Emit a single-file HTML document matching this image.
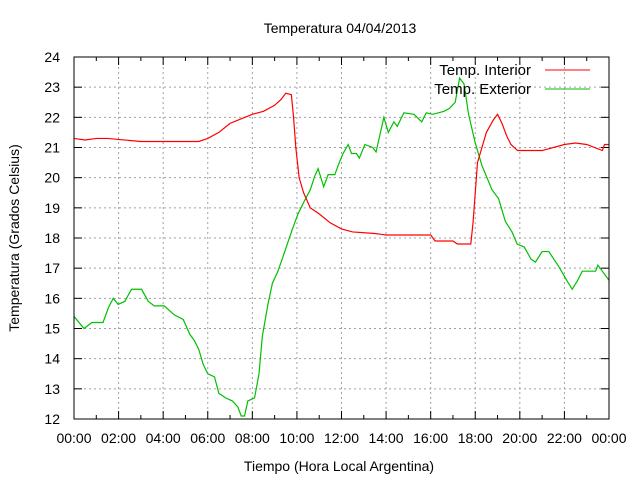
<!DOCTYPE html>
<html><head><meta charset="utf-8"><style>
body{margin:0;background:#fff}
svg{display:block;font-family:"Liberation Sans",sans-serif}
</style></head><body>
<svg id="c" width="640" height="480" viewBox="0 0 640 480"></svg>
<script>
const xTickLabels=["00:00","02:00","04:00","06:00","08:00","10:00","12:00","14:00","16:00","18:00","20:00","22:00","00:00"];
const yTicks=[12,13,14,15,16,17,18,19,20,21,22,23,24];
const interiorHours=[0,0.5,1.0,1.5,3.0,5.6,6.0,6.5,7.0,7.5,8.0,8.5,9.0,9.3,9.5,9.75,9.85,9.95,10.1,10.3,10.6,11.0,11.5,12.0,12.5,13.5,14.0,16.0,16.2,17.0,17.2,17.8,17.9,18.0,18.1,18.3,18.5,18.8,19.0,19.2,19.4,19.6,19.9,21.0,22.0,22.5,23.0,23.7,23.8,24];
const interiorTemps=[21.3,21.25,21.3,21.3,21.2,21.2,21.3,21.5,21.8,21.95,22.1,22.2,22.4,22.6,22.8,22.75,22.0,21.0,20.0,19.5,19.0,18.8,18.5,18.3,18.2,18.15,18.1,18.1,17.9,17.9,17.8,17.8,18.5,19.5,20.5,21.0,21.5,21.9,22.1,21.8,21.4,21.1,20.9,20.9,21.1,21.15,21.1,20.9,21.1,21.1];
const exteriorHours=[0,0.45,0.8,1.3,1.55,1.76,1.98,2.28,2.58,3.03,3.33,3.6,4.05,4.5,4.9,5.2,5.4,5.6,5.8,6.0,6.3,6.5,6.8,7.1,7.35,7.5,7.65,7.8,8.1,8.3,8.45,8.7,8.9,9.15,9.5,9.8,10.05,10.35,10.6,10.8,10.95,11.2,11.4,11.7,11.9,12.07,12.3,12.45,12.67,12.8,13.05,13.4,13.55,13.9,14.1,14.35,14.5,14.8,15.25,15.6,15.8,16.1,16.6,16.85,17.1,17.3,17.5,17.7,18.0,18.3,18.75,19.05,19.35,19.65,19.88,20.2,20.5,20.7,21.0,21.3,21.75,22.1,22.35,22.6,22.8,23.4,23.5,23.7,24];
const exteriorTemps=[15.4,15.0,15.2,15.2,15.7,16.0,15.8,15.9,16.3,16.3,15.9,15.75,15.75,15.45,15.3,14.8,14.6,14.3,13.8,13.5,13.4,12.85,12.7,12.6,12.4,12.1,12.1,12.6,12.7,13.5,14.75,15.8,16.5,16.9,17.65,18.3,18.8,19.25,19.6,20.05,20.3,19.7,20.1,20.1,20.5,20.8,21.1,20.8,20.8,20.65,21.1,21.0,20.85,22.0,21.5,21.85,21.7,22.15,22.1,21.85,22.15,22.1,22.2,22.3,22.5,23.3,23.1,22.1,21.15,20.4,19.6,19.3,18.55,18.2,17.8,17.7,17.3,17.2,17.55,17.55,17.05,16.6,16.3,16.6,16.9,16.9,17.1,16.9,16.6];

const L=74,R=609,T=57,B=419;
const xs=h=>L+(R-L)*h/24;
const ys=v=>B-(B-T)*(v-12)/12;
const svg=document.getElementById('c');
const NS='http://www.w3.org/2000/svg';
function mk(tag,attrs,parent){const e=document.createElementNS(NS,tag);for(const k in attrs)e.setAttribute(k,attrs[k]);(parent||svg).appendChild(e);return e;}
const grid=mk('g',{});


for(let i=1;i<12;i++){mk('line',{x1:xs(i*2),x2:xs(i*2),y1:T,y2:B,stroke:'#a0a0a0','stroke-dasharray':'2,3'},grid);}
yTicks.forEach(v=>{if(v>12&&v<24)mk('line',{x1:L,x2:R,y1:ys(v),y2:ys(v),stroke:'#a0a0a0','stroke-dasharray':'2,3'},grid);});
const ticks=mk('g',{stroke:'#000'});


for(let h=0;h<=24;h++){const len=h%2?4:8;const x=xs(h);mk('line',{x1:x,x2:x,y1:B,y2:B-len},ticks);mk('line',{x1:x,x2:x,y1:T,y2:T+len},ticks);}
yTicks.forEach(v=>{mk('line',{x1:L,x2:L+8,y1:ys(v),y2:ys(v)},ticks);mk('line',{x1:R,x2:R-8,y1:ys(v),y2:ys(v)},ticks);});
xTickLabels.forEach((t,i)=>{const e=mk('text',{x:xs(i*2),y:443,'text-anchor':'middle','font-size':14});e.textContent=t;

});
yTicks.forEach(v=>{const e=mk('text',{x:L-14,y:ys(v)+5,'text-anchor':'end','font-size':14});e.textContent=v;

});
function linePath(hs,vs){let d='M'+xs(hs[0])+','+ys(vs[0]);for(let i=1;i<hs.length;i++){d+=' L'+xs(hs[i])+','+ys(vs[i]);}return d;}
const g=mk('path',{d:linePath(exteriorHours,exteriorTemps),fill:'none',stroke:'#00c000','stroke-width':1.2});


const r=mk('path',{d:linePath(interiorHours,interiorTemps),fill:'none',stroke:'#ff0000','stroke-width':1.2});


const f=mk('rect',{x:L,y:T,width:R-L,height:B-T,fill:'none',stroke:'#000'});


</script>
<svg width="640" height="480" style="position:absolute;left:0;top:0">
<g font-family="Liberation Sans, sans-serif" font-size="14">
<text x="340" y="33" text-anchor="middle">Temperatura 04/04/2013</text>
<text x="339" y="471" text-anchor="middle">Tiempo (Hora Local Argentina)</text>
<text transform="translate(19,238) rotate(-90)" text-anchor="middle">Temperatura (Grados Celsius)</text>
<g><text x="531" y="75" text-anchor="end" font-size="15">Temp. Interior</text><line x1="545" x2="590" y1="70" y2="70" stroke="#ff0000"/></g>
<g><text x="531" y="94" text-anchor="end" font-size="15">Temp. Exterior</text><line x1="545" x2="590" y1="89" y2="89" stroke="#00c000"/></g>
</g></svg>
</body></html>
